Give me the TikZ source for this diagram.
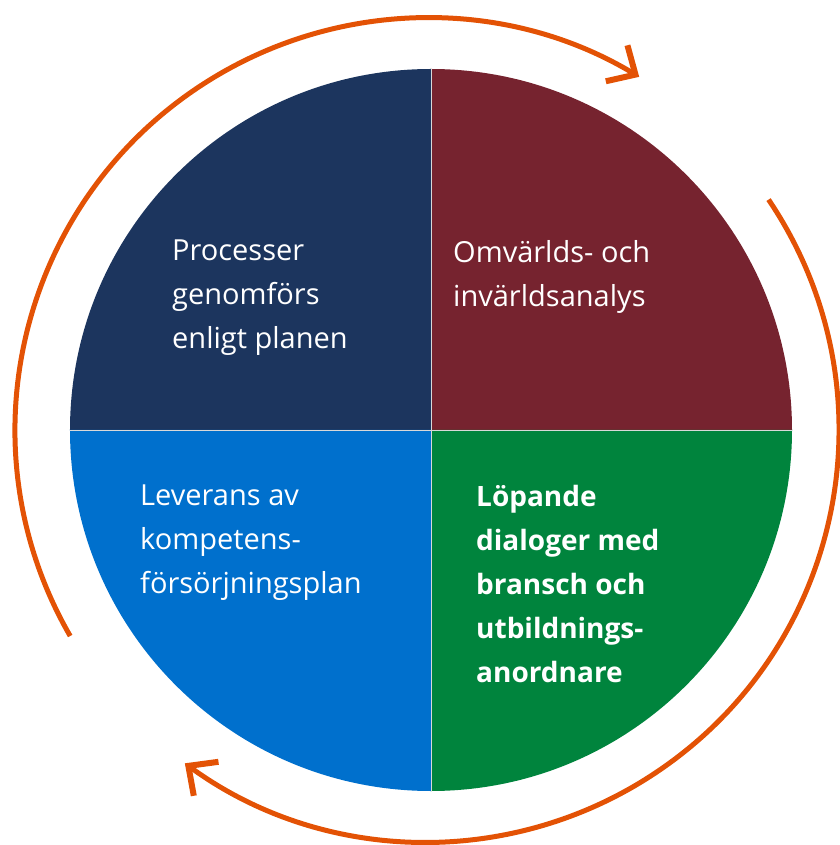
\documentclass[tikz,border=0pt]{standalone}
\usepackage{fontspec}
\setmainfont{Open Sans}
\usetikzlibrary{arrows.meta}
\definecolor{navy}{HTML}{1C355E}
\definecolor{wine}{HTML}{76232F}
\definecolor{sky}{HTML}{0070CD}
\definecolor{leaf}{HTML}{00843D}
\definecolor{orng}{HTML}{E35205}
\tikzset{
  label/.style={anchor=north west, inner sep=0pt, align=left, text=white, font=\fontsize{29}{44}\selectfont},
  cycle/.style={draw=orng, line width=5pt, -{Straight Barb[length=22pt,width=42pt,line width=6pt]}}
}
\begin{document}
\begin{tikzpicture}[x=1pt,y=1pt]
\useasboundingbox (-431,430) rectangle (408,-415);
\fill[navy] (0,0) -- (180:361) arc (180:90:361) -- cycle;
\fill[wine] (0,0) -- (90:361) arc (90:0:361) -- cycle;
\fill[leaf] (0,0) -- (0:361) arc (0:-90:361) -- cycle;
\fill[sky] (0,0) -- (-90:361) arc (-90:-180:361) -- cycle;
\draw[white!70!gray, line width=0.6pt] (-361,0) -- (361,0) (0,361) -- (0,-361);
\draw[cycle] ([shift={(-4,0)}]210:412) arc (210:59:412);
\draw[cycle] ([shift={(-4,0)}]34:412) arc (34:-126:412);
\node[label] (proc) at (-259,190) {Processer\\genomförs\\enligt planen};
\node[label] (omv) at (22,190) {Omvärlds- och\\invärldsanalys};
\node[label] (lev) at (-291,-55) {Leverans av\\kompetens-\\försörjningsplan};
\node[label, font=\bfseries\fontsize{28}{44}\selectfont] (lop) at (45,-55) {Löpande\\dialoger med\\bransch och\\utbildnings-\\anordnare};
\end{tikzpicture}
\end{document}
